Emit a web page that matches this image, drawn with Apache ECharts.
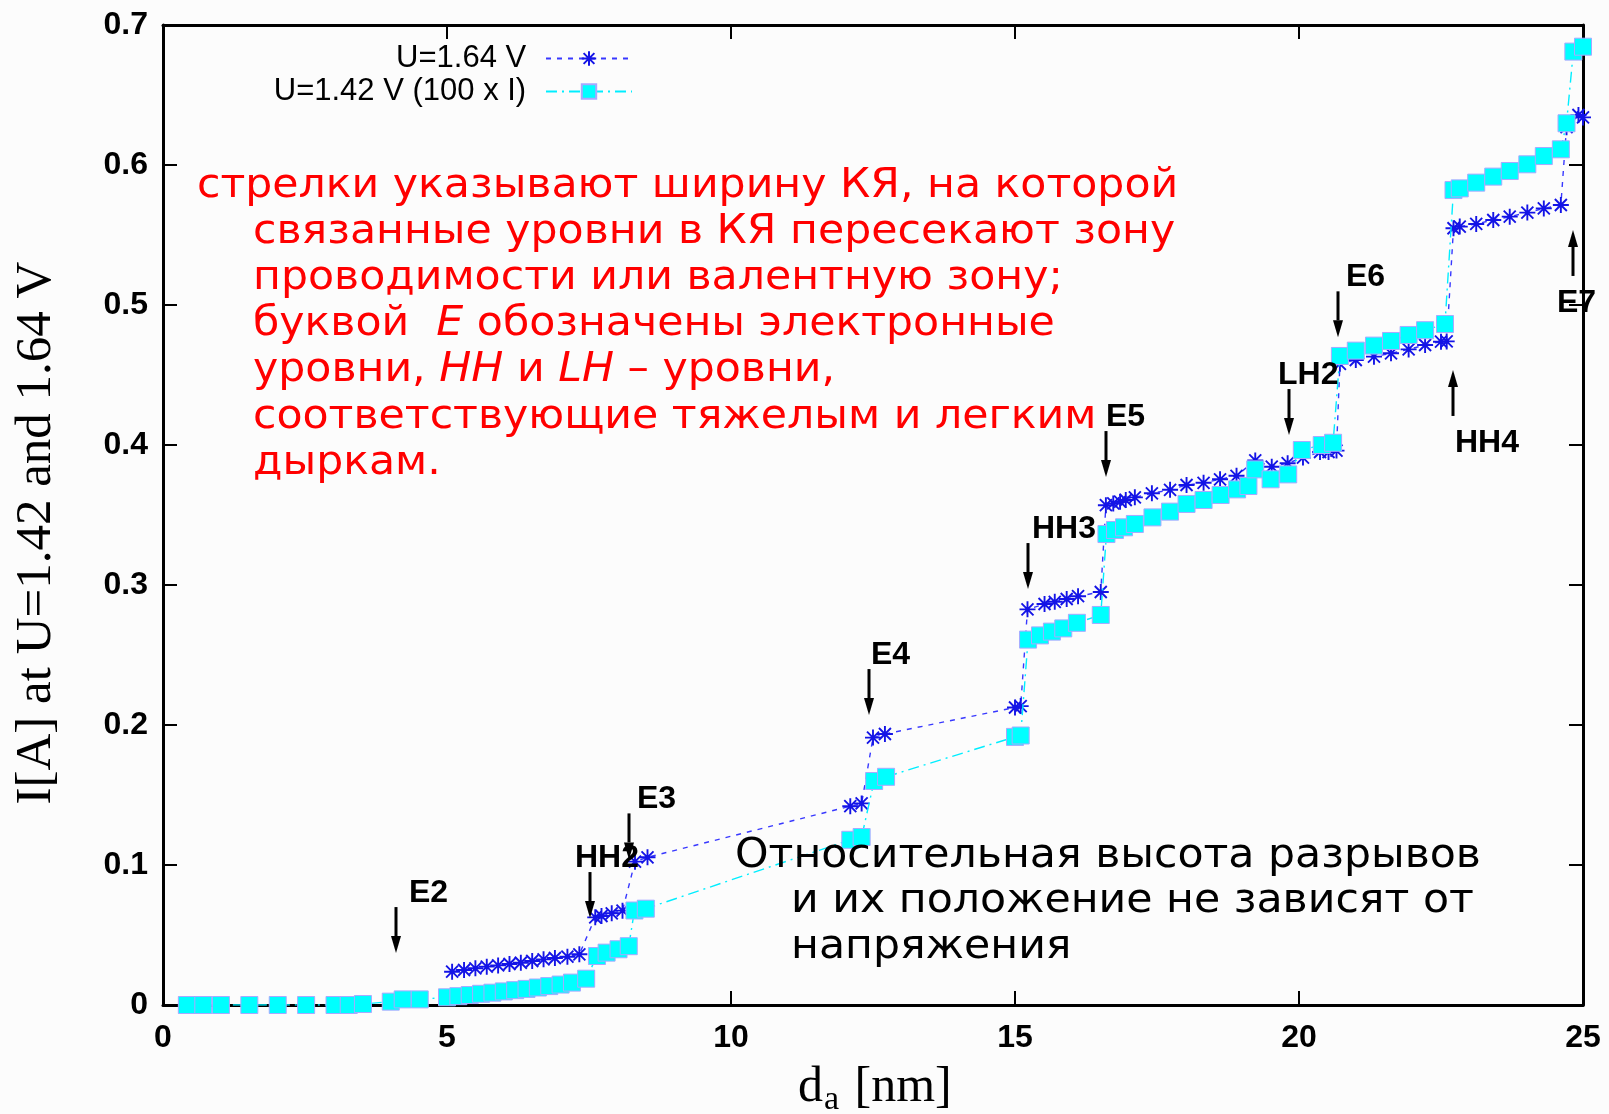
<!DOCTYPE html>
<html>
<head>
<meta charset="utf-8">
<script src="https://cdn.jsdelivr.net/npm/echarts@6/dist/echarts.min.js"></script>
<style>
  html, body { margin: 0; padding: 0; background: #fcfcfc; }
  #chart { width: 1609px; height: 1114px; }
</style>
</head>
<body>
<div id="chart"></div>
<script>
// Well width d_a [nm] and current at U = 1.64 V
const dHigh = [5.09, 5.30, 5.50, 5.70, 5.90, 6.10, 6.30, 6.50, 6.70, 6.90, 7.12, 7.33,
  7.61, 7.72, 7.90, 8.09, 8.31, 8.53, 12.10, 12.30, 12.50, 12.71, 15.00, 15.10,
  15.22, 15.52, 15.70, 15.91, 16.11, 16.51, 16.60, 16.73, 16.85, 16.95, 17.11, 17.41,
  17.73, 18.02, 18.32, 18.61, 18.90, 19.23, 19.52, 19.80, 20.07, 20.37, 20.52, 20.66,
  20.72, 21.00, 21.32, 21.62, 21.93, 22.22, 22.50, 22.60, 22.72, 22.83, 23.12, 23.42,
  23.71, 24.02, 24.31, 24.61, 24.71, 24.92, 25.00];
const iHigh = [0.0238, 0.0250, 0.0262, 0.0274, 0.0283, 0.0293, 0.0302, 0.0314, 0.0326, 0.0336, 0.0345, 0.0362,
  0.0626, 0.0636, 0.0655, 0.0674, 0.1024, 0.1055, 0.1420, 0.1440, 0.1910, 0.1936, 0.2125, 0.2135,
  0.2826, 0.2864, 0.2880, 0.2900, 0.2920, 0.2950, 0.3570, 0.3583, 0.3595, 0.3607, 0.3626, 0.3655,
  0.3680, 0.3714, 0.3730, 0.3755, 0.3780, 0.3890, 0.3845, 0.3870, 0.3910, 0.3950, 0.3950, 0.3960,
  0.4580, 0.4607, 0.4631, 0.4655, 0.4683, 0.4714, 0.4738, 0.4740, 0.5548, 0.5560, 0.5579, 0.5607,
  0.5631, 0.5660, 0.5690, 0.5714, 0.6270, 0.6357, 0.6340];

// Well width d_a [nm] and current at U = 1.42 V, multiplied by 100
const dLow = [0.42, 0.71, 1.02, 1.52, 2.02, 2.52, 3.02, 3.27, 3.52, 4.01, 4.22, 4.52,
  5.00, 5.20, 5.40, 5.60, 5.80, 6.00, 6.20, 6.40, 6.60, 6.80, 7.00, 7.20, 7.45,
  7.64, 7.81, 8.02, 8.20, 8.30, 8.50, 12.10, 12.30, 12.52, 12.73, 15.00, 15.10,
  15.23, 15.44, 15.65, 15.85, 16.09, 16.51, 16.61, 16.76, 16.92, 17.11, 17.42, 17.73,
  18.02, 18.32, 18.62, 18.91, 19.11, 19.23, 19.50, 19.81, 20.05, 20.40, 20.60,
  20.72, 21.00, 21.32, 21.62, 21.93, 22.22, 22.57, 22.72, 22.83, 23.12, 23.42,
  23.71, 24.02, 24.31, 24.61, 24.71, 24.83, 25.00];
const iLow = [0.0000, 0.0000, 0.0000, 0.0000, 0.0000, 0.0000, 0.0000, 0.0000, 0.0007, 0.0024, 0.0040, 0.0040,
  0.0055, 0.0063, 0.0071, 0.0080, 0.0088, 0.0097, 0.0106, 0.0115, 0.0125, 0.0135, 0.0146, 0.0160, 0.0188,
  0.0350, 0.0374, 0.0398, 0.0420, 0.0675, 0.0688, 0.1180, 0.1200, 0.1600, 0.1630, 0.1915, 0.1925,
  0.2610, 0.2640, 0.2667, 0.2690, 0.2730, 0.2786, 0.3364, 0.3393, 0.3412, 0.3436, 0.3483, 0.3524,
  0.3579, 0.3607, 0.3643, 0.3683, 0.3707, 0.3826, 0.3755, 0.3790, 0.3964, 0.4000, 0.4016,
  0.4636, 0.4674, 0.4710, 0.4743, 0.4786, 0.4820, 0.4864, 0.5821, 0.5833, 0.5874, 0.5917,
  0.5957, 0.6005, 0.6064, 0.6112, 0.6298, 0.6810, 0.6845];

const seriesNames = ['U=1.64 V', 'U=1.42 V (100 x I)'];
const xTickLabels = ['0', '5', '10', '15', '20', '25'];
const yTickLabels = ['0', '0.1', '0.2', '0.3', '0.4', '0.5', '0.6', '0.7'];

// Level markers: well width, current at the arrow tip, direction (1 = up), level name
const levelD = [4.11, 7.52, 8.21, 12.43, 15.23, 16.61, 19.82, 20.69, 22.72, 24.82];
const levelI = [0.0371, 0.0621, 0.1040, 0.2071, 0.2971, 0.3771, 0.4071, 0.4769, 0.4536, 0.5536];
const levelUp = [0, 0, 0, 0, 0, 0, 0, 0, 1, 1];
const levelNames = ['E2', 'HH2', 'E3', 'E4', 'HH3', 'E5', 'LH2', 'E6', 'HH4', 'E7'];
// horizontal shift of each level name relative to its arrow, px
const levelNameShift = [13, -15, 8, 2, 4, 0, -11, 8, 2, -16];

const noteRed = [
  'стрелки указывают ширину КЯ, на которой',
  'связанные уровни в КЯ пересекают зону',
  'проводимости или валентную зону;',
  'буквой  {i|E} обозначены электронные',
  'уровни, {i|HH} и {i|LH} – уровни,',
  'соответствующие тяжелым и легким',
  'дыркам.'
];
const noteBlack = [
  'Относительная высота разрывов',
  'и их положение не зависят от',
  'напряжения'
];
const xTitleMain = 'd';
const xTitleSub = 'a';
const xTitleRest = ' [nm]';
const yTitle = 'I[A] at U=1.42 and 1.64 V';

const pairs = (xs, ys) => xs.map((x, k) => [x, ys[k]]);

const SANS = '"Liberation Sans", Arial, sans-serif';
const SERIF = '"Liberation Serif", "Times New Roman", serif';
const NOTE = '"DejaVu Sans", sans-serif';
const NOTE_SIZE = 41;
const NOTE_STRETCH = 1.04;

const GRID = { left: 163, top: 25, width: 1420, height: 980 };
const STAR = 'path://M-1,0L1,0M0,-1L0,1M-0.75,-0.75L0.75,0.75M-0.75,0.75L0.75,-0.75';

const chart = echarts.init(document.getElementById('chart'), null, { renderer: 'canvas' });

const axisLineStyle = { onZero: false, lineStyle: { color: '#000', width: 3 } };
const tickStyle = { inside: true, length: 14, lineStyle: { color: '#000', width: 2 } };
const tickFont = { color: '#000', fontFamily: SANS, fontWeight: 'bold', fontSize: 32 };

const noteElements = [];
const noteRich = {
  i: { fontFamily: NOTE, fontSize: NOTE_SIZE, fontStyle: 'italic', fill: '#ff0000', color: '#ff0000' }
};
noteRed.forEach((line, k) => {
  noteElements.push({
    type: 'text', x: k === 0 ? 197 : 253, y: 186 + 46.2 * k, scaleX: NOTE_STRETCH, silent: true, z: 50,
    style: {
      text: line, fill: '#ff0000', fontFamily: NOTE, fontSize: NOTE_SIZE,
      verticalAlign: 'middle', align: 'left', rich: noteRich
    }
  });
});
noteBlack.forEach((line, k) => {
  noteElements.push({
    type: 'text', x: k === 0 ? 735 : 791, y: 856 + 45.5 * k, scaleX: NOTE_STRETCH, silent: true, z: 50,
    style: { text: line, fill: '#000', fontFamily: NOTE, fontSize: NOTE_SIZE, verticalAlign: 'middle', align: 'left' }
  });
});

const titleElements = [
  { type: 'text', x: 798, y: 1088, silent: true,
    style: { text: xTitleMain, fill: '#000', fontFamily: SERIF, fontSize: 50, verticalAlign: 'middle', align: 'left' } },
  { type: 'text', x: 824, y: 1100, silent: true,
    style: { text: xTitleSub, fill: '#000', fontFamily: SERIF, fontSize: 34, verticalAlign: 'middle', align: 'left' } },
  { type: 'text', x: 842, y: 1088, silent: true,
    style: { text: xTitleRest, fill: '#000', fontFamily: SERIF, fontSize: 50, verticalAlign: 'middle', align: 'left' } },
  { type: 'text', x: 37, y: 533, rotation: Math.PI / 2, silent: true,
    style: { text: yTitle, fill: '#000', fontFamily: SERIF, fontSize: 51, verticalAlign: 'middle', align: 'center' } }
];

function renderLevel(params, api) {
  const k = params.dataIndex;
  const tip = api.coord([api.value(0), api.value(1)]);
  const up = api.value(2) === 1;
  const x = Math.round(tip[0]);
  const len = 46, headL = 17, headW = 5;
  const tailY = up ? tip[1] + len : tip[1] - len;
  const baseY = up ? tip[1] + headL : tip[1] - headL;
  const labelY = up ? tailY + 27 : tailY - 14;
  return {
    type: 'group',
    children: [
      { type: 'line', shape: { x1: x, y1: tailY, x2: x, y2: baseY }, style: { stroke: '#000', lineWidth: 3 } },
      { type: 'polygon', shape: { points: [[x, tip[1]], [x - headW, baseY], [x + headW, baseY]] }, style: { fill: '#000' } },
      { type: 'text', x: x + levelNameShift[k], y: labelY,
        style: { text: levelNames[k], fill: '#000', fontFamily: SANS, fontWeight: 'bold', fontSize: 32,
                 verticalAlign: 'middle', align: 'left' } }
    ]
  };
}

chart.setOption({
  backgroundColor: '#fcfcfc',
  animation: false,
  grid: GRID,
  legend: {
    data: seriesNames,
    orient: 'vertical',
    align: 'right',
    right: 976,
    top: 43,
    padding: 0,
    itemWidth: 86,
    itemHeight: 18,
    itemGap: 2,
    formatter: name => name + ' \u2009',
    textStyle: { color: '#000', fontFamily: SANS, fontSize: 31 },
    selectedMode: false
  },
  xAxis: [
    { type: 'value', min: 0, max: 25, interval: 5, position: 'bottom',
      axisLine: axisLineStyle, axisTick: tickStyle, splitLine: { show: false },
      axisLabel: Object.assign({ margin: 17, formatter: (v) => xTickLabels[Math.round(v / 5)] }, tickFont) },
    { type: 'value', min: 0, max: 25, interval: 5, position: 'top',
      axisLine: axisLineStyle, axisTick: tickStyle, splitLine: { show: false }, axisLabel: { show: false } }
  ],
  yAxis: [
    { type: 'value', min: 0, max: 0.7, interval: 0.1, position: 'left',
      axisLine: axisLineStyle, axisTick: tickStyle, splitLine: { show: false },
      axisLabel: Object.assign({ margin: 15, formatter: (v) => yTickLabels[Math.round(v * 10)] }, tickFont) },
    { type: 'value', min: 0, max: 0.7, interval: 0.1, position: 'right',
      axisLine: axisLineStyle, axisTick: tickStyle, splitLine: { show: false }, axisLabel: { show: false } }
  ],
  series: [
    {
      name: seriesNames[0], type: 'line', data: pairs(dHigh, iHigh),
      symbol: STAR, symbolSize: 16, showAllSymbol: true,
      itemStyle: { color: '#1414e6', borderColor: '#1414e6', borderWidth: 1.9 },
      lineStyle: { color: '#3838ff', width: 1.4, type: [5, 6] },
      emphasis: { disabled: true }, z: 3
    },
    {
      name: seriesNames[1], type: 'line', data: pairs(dLow, iLow),
      symbol: 'rect', symbolSize: 17, showAllSymbol: true,
      itemStyle: { color: '#00ffff', borderColor: '#a8a8ff', borderWidth: 1 },
      lineStyle: { color: '#00eeff', width: 1.4, type: [11, 5, 2, 5] },
      emphasis: { disabled: true }, z: 4
    },
    {
      type: 'custom', name: 'levels', renderItem: renderLevel, clip: false, silent: true, z: 6,
      data: levelD.map((d, k) => [d, levelI[k], levelUp[k]])
    }
  ],
  graphic: { elements: noteElements.concat(titleElements) }
});
</script>
</body>
</html>
